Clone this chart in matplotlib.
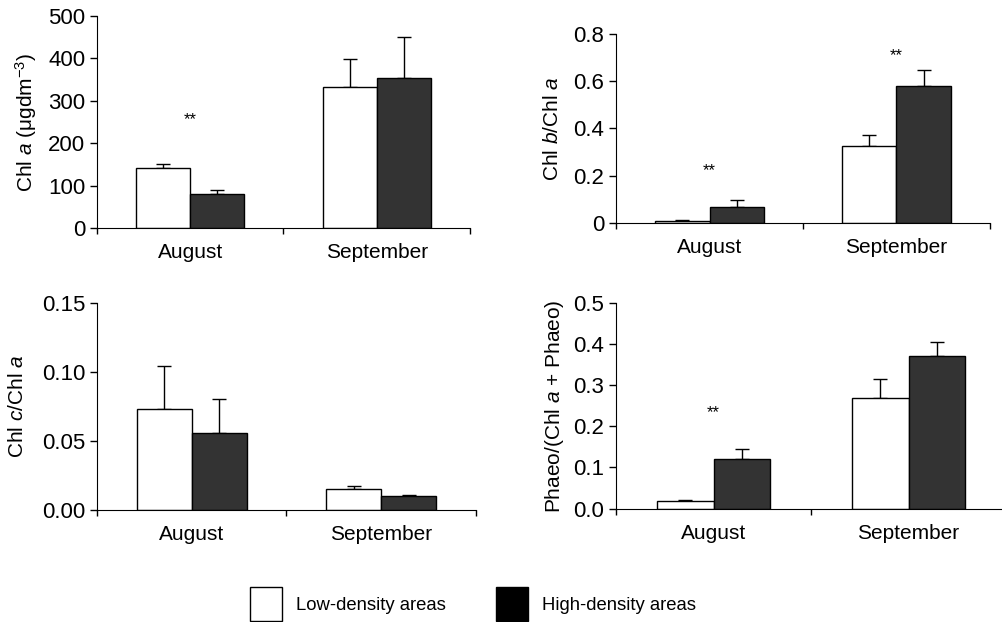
import numpy as np
import matplotlib
matplotlib.use("Agg")
import matplotlib.pyplot as plt
from matplotlib.patches import Patch

plt.rcParams['font.family'] = ['Liberation Sans', 'DejaVu Sans']
plt.rcParams['mathtext.fontset'] = 'custom'
plt.rcParams['mathtext.rm'] = 'Liberation Sans'
plt.rcParams['mathtext.it'] = 'Liberation Sans:italic'

months = ["August", "September"]
series = ["Low-density areas", "High-density areas"]

# mean values (low, high) and upper error per panel
chla_low = [142, 333]
chla_high = [81, 354]
chla_low_err = [8, 66]
chla_high_err = [9, 97]

chlb_low = [0.008, 0.327]
chlb_high = [0.066, 0.580]
chlb_low_err = [0.006, 0.046]
chlb_high_err = [0.032, 0.067]

chlc_low = [0.073, 0.0148]
chlc_high = [0.0556, 0.0097]
chlc_low_err = [0.031, 0.0026]
chlc_high_err = [0.025, 0.0012]

phaeo_low = [0.018, 0.268]
phaeo_high = [0.121, 0.371]
phaeo_low_err = [0.004, 0.046]
phaeo_high_err = [0.025, 0.034]

# significance markers: (month index, y)
chla_stars = [(0, 255)]
chlb_stars = [(0, 0.22), (1, 0.706)]
chlc_stars = []
phaeo_stars = [(0, 0.233)]

panels = [
    dict(rect=[0.0968, 0.6334, 0.3722, 0.3409], low=chla_low, high=chla_high,
         low_err=chla_low_err, high_err=chla_high_err, stars=chla_stars,
         ylim=500, yticks=[0, 100, 200, 300, 400, 500],
         yticklabels=["0", "100", "200", "300", "400", "500"],
         ylabel=r"Chl $\it{a}$ ($\mathrm{\mu}$gdm$^{-3}$)", labelx=26),
    dict(rect=[0.6148, 0.6415, 0.3732, 0.3043], low=chlb_low, high=chlb_high,
         low_err=chlb_low_err, high_err=chlb_high_err, stars=chlb_stars,
         ylim=0.8, yticks=[0, 0.2, 0.4, 0.6, 0.8],
         yticklabels=["0", "0.2", "0.4", "0.6", "0.8"],
         ylabel=r"Chl $\it{b}$/Chl $\it{a}$", labelx=552),
    dict(rect=[0.0968, 0.1805, 0.3782, 0.3328], low=chlc_low, high=chlc_high,
         low_err=chlc_low_err, high_err=chlc_high_err, stars=chlc_stars,
         ylim=0.15, yticks=[0, 0.05, 0.10, 0.15],
         yticklabels=["0.00", "0.05", "0.10", "0.15"],
         ylabel=r"Chl $\it{c}$/Chl $\it{a}$", labelx=17.5),
    dict(rect=[0.6148, 0.1822, 0.3892, 0.3311], low=phaeo_low, high=phaeo_high,
         low_err=phaeo_low_err, high_err=phaeo_high_err, stars=phaeo_stars,
         ylim=0.5, yticks=[0, 0.1, 0.2, 0.3, 0.4, 0.5],
         yticklabels=["0.0", "0.1", "0.2", "0.3", "0.4", "0.5"],
         ylabel=r"Phaeo/(Chl $\it{a}$ + Phaeo)", labelx=554),
]

dark = "#333333"
width = 0.29
x = np.arange(len(months))

fig = plt.figure(figsize=(10.02, 6.22), dpi=100)

for p in panels:
    ax = fig.add_axes(p["rect"])
    for vals, errs, off, color in [(p["low"], p["low_err"], -width / 2, "white"),
                                   (p["high"], p["high_err"], width / 2, dark)]:
        ax.bar(x + off, vals, width, color=color, edgecolor="black", linewidth=1.0, zorder=2)
        ax.errorbar(x + off, vals, yerr=[np.zeros(len(vals)), errs], fmt="none",
                    ecolor="black", elinewidth=1.0, capsize=5, capthick=1.0, zorder=1)
    for i, y in p["stars"]:
        ax.text(x[i], y, "**", ha="center", va="center", fontsize=12)
    ax.set_xlim(-0.5, 1.5)
    ax.set_ylim(0, p["ylim"])
    ax.spines["top"].set_visible(False)
    ax.spines["right"].set_visible(False)
    ax.set_yticks(p["yticks"])
    ax.set_yticklabels(p["yticklabels"], fontsize=16)
    ax.tick_params(axis="y", direction="out", length=5, width=1, pad=3.5)
    ax.set_xticks([-0.5, 0.5, 1.5])
    ax.set_xticklabels([])
    ax.tick_params(axis="x", which="major", direction="out", length=4, width=1)
    ax.set_xticks(x, minor=True)
    ax.set_xticklabels(months, minor=True, fontsize=15)
    ax.tick_params(axis="x", which="minor", length=0, pad=11)
    ax.set_ylabel(p["ylabel"], fontsize=15, va="center")
    # place ylabel centre at a fixed pixel x
    bx = p["rect"][0] * 1002
    ax.yaxis.set_label_coords((p["labelx"] - bx) / (p["rect"][2] * 1002), 0.5)

handles = [Patch(facecolor="white", edgecolor="black", linewidth=1.0),
           Patch(facecolor="black", edgecolor="black", linewidth=1.0)]
fig.legend(handles, series, loc="center", bbox_to_anchor=(0.472, 0.029), ncol=2,
           frameon=False, fontsize=13.3, handlelength=1.73, handleheight=2.4,
           handletextpad=0.76, columnspacing=2.7, borderpad=0.2)

fig.savefig("out.png", dpi=100)
